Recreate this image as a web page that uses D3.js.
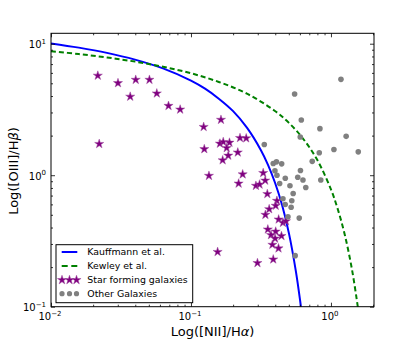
<!DOCTYPE html>
<html>
<head>
<meta charset="utf-8">
<script src="https://cdn.jsdelivr.net/npm/d3@7"></script>
<style>
  body { margin: 0; background: #fff; }
  svg { display: block; font-family: 'DejaVu Sans', sans-serif; }
</style>
</head>
<body>
<div id="chart"></div>
<script>
// Kauffmann et al. demarcation
const kauffX = [0.01, 0.0158, 0.0251, 0.0398, 0.0631, 0.1, 0.126, 0.158, 0.2, 0.251, 0.316, 0.355, 0.398, 0.447, 0.501, 0.562, 0.603, 0.61];
const kauffY = [10.06, 9.34, 8.52, 7.57, 6.49, 5.24, 4.55, 3.82, 3.07, 2.30, 1.55, 1.20, 0.88, 0.596, 0.361, 0.185, 0.110, 0.0996];

// Kewley et al. demarcation
const kewleyX = [0.01, 0.0158, 0.0251, 0.0398, 0.0631, 0.1, 0.158, 0.251, 0.398, 0.501, 0.631, 0.794, 1.0, 1.122, 1.259, 1.413, 1.549, 1.556];
const kewleyY = [8.77, 8.34, 7.86, 7.31, 6.68, 5.96, 5.12, 4.17, 3.08, 2.50, 1.90, 1.32, 0.780, 0.546, 0.348, 0.192, 0.1027, 0.099];

// star forming galaxies
const sfX = [0.0216, 0.0301, 0.0403, 0.0505, 0.0368, 0.057, 0.0691, 0.0837, 0.0221, 0.1232,
  0.1638, 0.1245, 0.161, 0.17, 0.1884, 0.18, 0.1846, 0.1684, 0.224, 0.248,
  0.216, 0.1344, 0.234, 0.328, 0.219, 0.291, 0.309, 0.339, 0.351, 0.411,
  0.403, 0.362, 0.34, 0.423, 0.454, 0.477, 0.354, 0.403, 0.373, 0.443,
  0.399, 0.3815, 0.422, 0.155, 0.387, 0.2985];
const sfY = [5.72, 5.02, 5.32, 5.32, 3.96, 4.19, 3.37, 3.16, 1.73, 2.33,
  2.64, 1.58, 1.74, 1.79, 1.77, 1.61, 1.41, 1.30, 1.92, 1.91,
  1.49, 0.99, 1.016, 1.04, 0.865, 0.831, 0.85, 0.911, 0.72, 0.639,
  0.586, 0.552, 0.50, 0.461, 0.435, 0.447, 0.387, 0.373, 0.351, 0.345,
  0.33, 0.296, 0.278, 0.261, 0.229, 0.215];

// other galaxies
const otherX = [1.179, 0.55, 0.614, 0.834, 0.6035, 1.284, 0.334, 1.05, 1.567, 0.825,
  0.735, 0.387, 0.408, 0.4445, 0.6055, 0.398, 0.4114, 0.4717, 0.579, 0.631,
  0.846, 0.43, 0.5095, 0.661, 0.537, 0.454, 0.525, 0.471, 0.5195, 0.493,
  0.5935, 0.555];
const otherY = [5.36, 4.15, 2.63, 2.26, 1.95, 1.975, 1.71, 1.57, 1.505, 1.48,
  1.275, 1.227, 1.264, 1.22, 1.086, 1.08, 1.0, 0.947, 0.964, 0.92,
  0.92, 0.865, 0.831, 0.806, 0.726, 0.663, 0.64, 0.599, 0.571, 0.483,
  0.472, 0.2445];

const xMajor = [0.01, 0.1, 1];
const xMajorLabels = ['−2', '−1', '0'];
const yMajor = [0.1, 1, 10];
const yMajorLabels = ['−1', '0', '1'];
const legendLabels = ['Kauffmann et al.', 'Kewley et al.', 'Star forming galaxies', 'Other Galaxies'];

var margin = { top: 33.3, right: 41, bottom: 35.3, left: 51 },
  width = 415 - margin.left - margin.right,
  height = 342 - margin.top - margin.bottom;

var svg = d3.select('#chart').append('svg')
  .attr('width', 415)
  .attr('height', 342);

var g = svg.append('g')
  .attr('transform', 'translate(' + margin.left + ',' + margin.top + ')');

var x = d3.scaleLog().domain([0.01, 2.03]).range([0, width]);
var y = d3.scaleLog().domain([0.1, 12]).range([height, 0]);

g.append('clipPath').attr('id', 'clip')
  .append('rect').attr('width', width).attr('height', height);

var line = d3.line()
  .x(function(d) { return x(d[0]); })
  .y(function(d) { return y(d[1]); })
  .curve(d3.curveCatmullRom);

var plot = g.append('g').attr('clip-path', 'url(#clip)');

plot.append('path')
  .attr('d', line(d3.zip(kauffX, kauffY)))
  .attr('fill', 'none')
  .attr('stroke', '#0000ff')
  .attr('stroke-width', 2);

plot.append('path')
  .attr('d', line(d3.zip(kewleyX, kewleyY)))
  .attr('fill', 'none')
  .attr('stroke', '#008000')
  .attr('stroke-width', 2)
  .attr('stroke-dasharray', '5,3');

var star = d3.symbol().type(d3.symbolStar).size(26);

plot.selectAll('path.sf')
  .data(d3.zip(sfX, sfY))
  .enter().append('path')
  .attr('class', 'sf')
  .attr('d', star)
  .attr('transform', function(d) { return 'translate(' + x(d[0]) + ',' + y(d[1]) + ')'; })
  .attr('fill', '#800080')
  .attr('stroke', '#a04fa0')
  .attr('stroke-width', 0.5);

plot.selectAll('circle.other')
  .data(d3.zip(otherX, otherY))
  .enter().append('circle')
  .attr('class', 'other')
  .attr('cx', function(d) { return x(d[0]); })
  .attr('cy', function(d) { return y(d[1]); })
  .attr('r', 2.8)
  .attr('fill', '#808080');

// minor tick values
var xMinor = [], yMinor = [];
[0.01, 0.1, 1].forEach(function(b) {
  for (var k = 2; k <= 9; k++) if (b * k <= 2.03) xMinor.push(b * k);
});
[0.1, 1].forEach(function(b) {
  for (var k = 2; k <= 9; k++) yMinor.push(b * k);
});

// ticks on all four sides, pointing in
function ticks(axis, vals, size) {
  return axis.tickValues(vals).tickSize(size).tickFormat('');
}
var axes = [
  [d3.axisBottom(x), 'translate(0,' + height + ')', xMajor, xMinor, -4, -2],
  [d3.axisTop(x), 'translate(0,0)', xMajor, xMinor, -4, -2],
  [d3.axisLeft(y), 'translate(0,0)', yMajor, yMinor, -4, -2],
  [d3.axisRight(y), 'translate(' + width + ',0)', yMajor, yMinor, -4, -2]
];
axes.forEach(function(a) {
  [[a[2], a[4]], [a[3], a[5]]].forEach(function(t) {
    var ax = g.append('g').attr('transform', a[1]).call(ticks(a[0].copy ? a[0] : a[0], t[0], t[1]));
    ax.select('.domain').remove();
    ax.selectAll('line').attr('stroke', '#000').attr('stroke-width', 0.8);
  });
});

g.append('rect')
  .attr('width', width)
  .attr('height', height)
  .attr('fill', 'none')
  .attr('stroke', '#000')
  .attr('stroke-width', 1);

// tick labels
xMajor.forEach(function(v, i) {
  var t = g.append('text')
    .attr('x', x(v) - 1)
    .attr('y', height + 13.8)
    .attr('text-anchor', 'middle')
    .attr('font-size', 10)
    .text('10');
  t.append('tspan').attr('dy', -4.5).attr('font-size', 7).text(xMajorLabels[i]);
});
yMajor.forEach(function(v, i) {
  var t = g.append('text')
    .attr('x', -5)
    .attr('y', y(v) + 4.5)
    .attr('text-anchor', 'end')
    .attr('font-size', 10)
    .text('10');
  t.append('tspan').attr('dy', -4.5).attr('font-size', 7).text(yMajorLabels[i]);
});

// axis labels
var xl = svg.append('text')
  .attr('x', margin.left + width / 2)
  .attr('y', 335.5)
  .attr('text-anchor', 'middle')
  .attr('font-size', 13)
  .text('Log([NII]/H');
xl.append('tspan').attr('font-style', 'italic').text('α');
xl.append('tspan').text(')');

var yl = svg.append('text')
  .attr('transform', 'translate(17.5,' + 171 + ') rotate(-90)')
  .attr('text-anchor', 'middle')
  .attr('font-size', 13)
  .text('Log([OIII]/H');
yl.append('tspan').attr('font-style', 'italic').text('β');
yl.append('tspan').text(')');

// legend
var legend = svg.append('g').attr('transform', 'translate(56,244.7)');
legend.append('rect')
  .attr('width', 136.7)
  .attr('height', 58)
  .attr('fill', '#fff')
  .attr('stroke', '#000')
  .attr('stroke-width', 1);

var rowY = [7.3, 21.3, 35.3, 49];
legend.append('line')
  .attr('x1', 5.7).attr('x2', 21.3).attr('y1', rowY[0]).attr('y2', rowY[0])
  .attr('stroke', '#0000ff').attr('stroke-width', 2);
legend.append('line')
  .attr('x1', 5.7).attr('x2', 21.3).attr('y1', rowY[1]).attr('y2', rowY[1])
  .attr('stroke', '#008000').attr('stroke-width', 2)
  .attr('stroke-dasharray', '6,3.6');
[6, 13.5, 20.5].forEach(function(dx) {
  legend.append('path')
    .attr('d', star)
    .attr('transform', 'translate(' + dx + ',' + rowY[2] + ')')
    .attr('fill', '#800080')
    .attr('stroke', '#a04fa0')
    .attr('stroke-width', 0.5);
  legend.append('circle')
    .attr('cx', dx).attr('cy', rowY[3]).attr('r', 2.6)
    .attr('fill', '#808080');
});
legendLabels.forEach(function(s, i) {
  legend.append('text')
    .attr('x', 31.3)
    .attr('y', rowY[i] + 3.4)
    .attr('font-size', 9.4)
    .text(s);
});
</script>
</body>
</html>
